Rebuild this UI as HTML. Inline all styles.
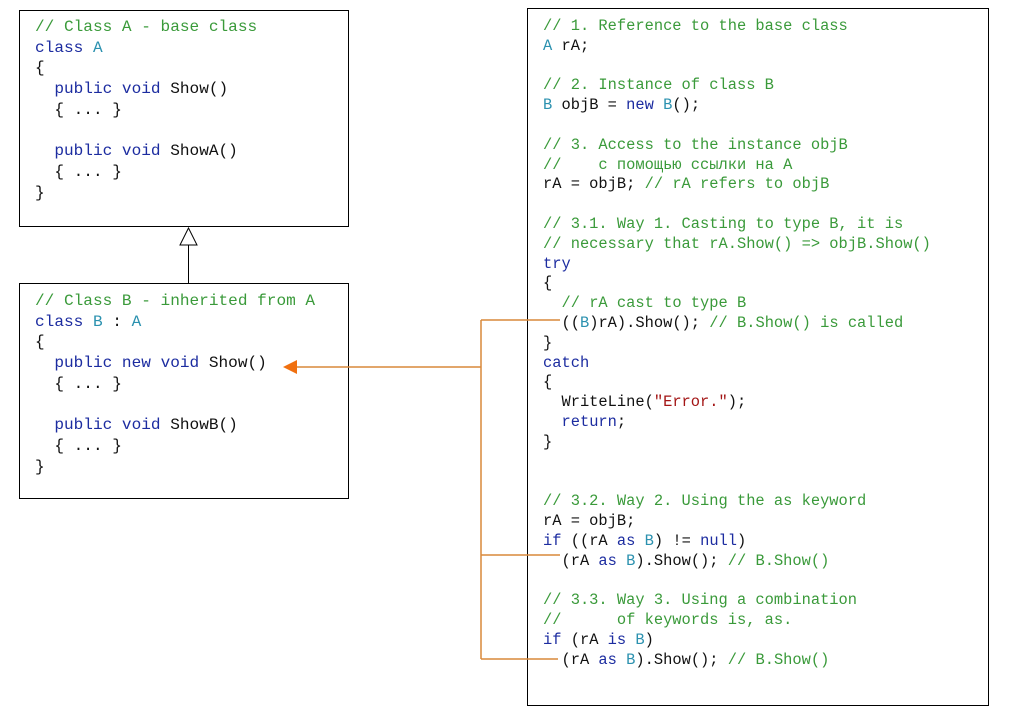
<!DOCTYPE html>
<html><head><meta charset="utf-8"><style>
body{margin:0;width:1014px;height:716px;background:#fff;position:relative;overflow:hidden;font-family:"Liberation Mono","DejaVu Sans Mono",monospace;}
.box{position:absolute;border:1px solid #000;box-sizing:border-box;}
pre{position:absolute;margin:0;font-family:"Liberation Mono","DejaVu Sans Mono",monospace;font-size:15.6px;color:#111;}
.c{color:#3a9a3a}.k{color:#1c2ca0}.t{color:#2b91af}.s{color:#a31515}
</style></head><body>
<div class="box" style="left:19px;top:10px;width:330px;height:217px"></div>
<div class="box" style="left:19px;top:283px;width:330px;height:216px"></div>
<div class="box" style="left:527px;top:8px;width:462px;height:698px"></div>
<pre style="left:35px;top:17px;line-height:20.7px;font-size:16.1px"><span class="c">// Class A - base class</span>
<span class="k">class</span> <span class="t">A</span>
{
  <span class="k">public void</span> Show()
  { ... }

  <span class="k">public void</span> ShowA()
  { ... }
}</pre>
<pre style="left:35px;top:291px;line-height:20.7px;font-size:16.1px"><span class="c">// Class B - inherited from A</span>
<span class="k">class</span> <span class="t">B</span> : <span class="t">A</span>
{
  <span class="k">public new void</span> Show()
  { ... }

  <span class="k">public void</span> ShowB()
  { ... }
}</pre>
<pre style="left:543px;top:17px;line-height:19.8px;font-size:15.4px"><span class="c">// 1. Reference to the base class</span>
<span class="t">A</span> rA;

<span class="c">// 2. Instance of class B</span>
<span class="t">B</span> objB = <span class="k">new</span> <span class="t">B</span>();

<span class="c">// 3. Access to the instance objB</span>
<span class="c">//    с помощью ссылки на A</span>
rA = objB; <span class="c">// rA refers to objB</span>

<span class="c">// 3.1. Way 1. Casting to type B, it is</span>
<span class="c">// necessary that rA.Show() =&gt; objB.Show()</span>
<span class="k">try</span>
{
  <span class="c">// rA cast to type B</span>
  ((<span class="t">B</span>)rA).Show(); <span class="c">// B.Show() is called</span>
}
<span class="k">catch</span>
{
  WriteLine(<span class="s">"Error."</span>);
  <span class="k">return</span>;
}


<span class="c">// 3.2. Way 2. Using the as keyword</span>
rA = objB;
<span class="k">if</span> ((rA <span class="k">as</span> <span class="t">B</span>) != <span class="k">null</span>)
  (rA <span class="k">as</span> <span class="t">B</span>).Show(); <span class="c">// B.Show()</span>

<span class="c">// 3.3. Way 3. Using a combination</span>
<span class="c">//      of keywords is, as.</span>
<span class="k">if</span> (rA <span class="k">is</span> <span class="t">B</span>)
  (rA <span class="k">as</span> <span class="t">B</span>).Show(); <span class="c">// B.Show()</span></pre>
<svg width="1014" height="716" style="position:absolute;left:0;top:0">
<line x1="188.5" y1="245" x2="188.5" y2="283" stroke="#000" stroke-width="1"/>
<polygon points="188.5,228 180,245 197,245" fill="#fff" stroke="#000" stroke-width="1"/>
<g stroke="#d9893a" stroke-width="1.5" fill="none">
<line x1="481" y1="320" x2="481" y2="659"/>
<line x1="481" y1="320" x2="560" y2="320"/>
<line x1="481" y1="555" x2="560" y2="555"/>
<line x1="481" y1="659" x2="558" y2="659"/>
<line x1="481" y1="367" x2="296" y2="367"/>
</g>
<polygon points="283,367 297,360 297,374" fill="#f07010"/>
</svg>
</body></html>
